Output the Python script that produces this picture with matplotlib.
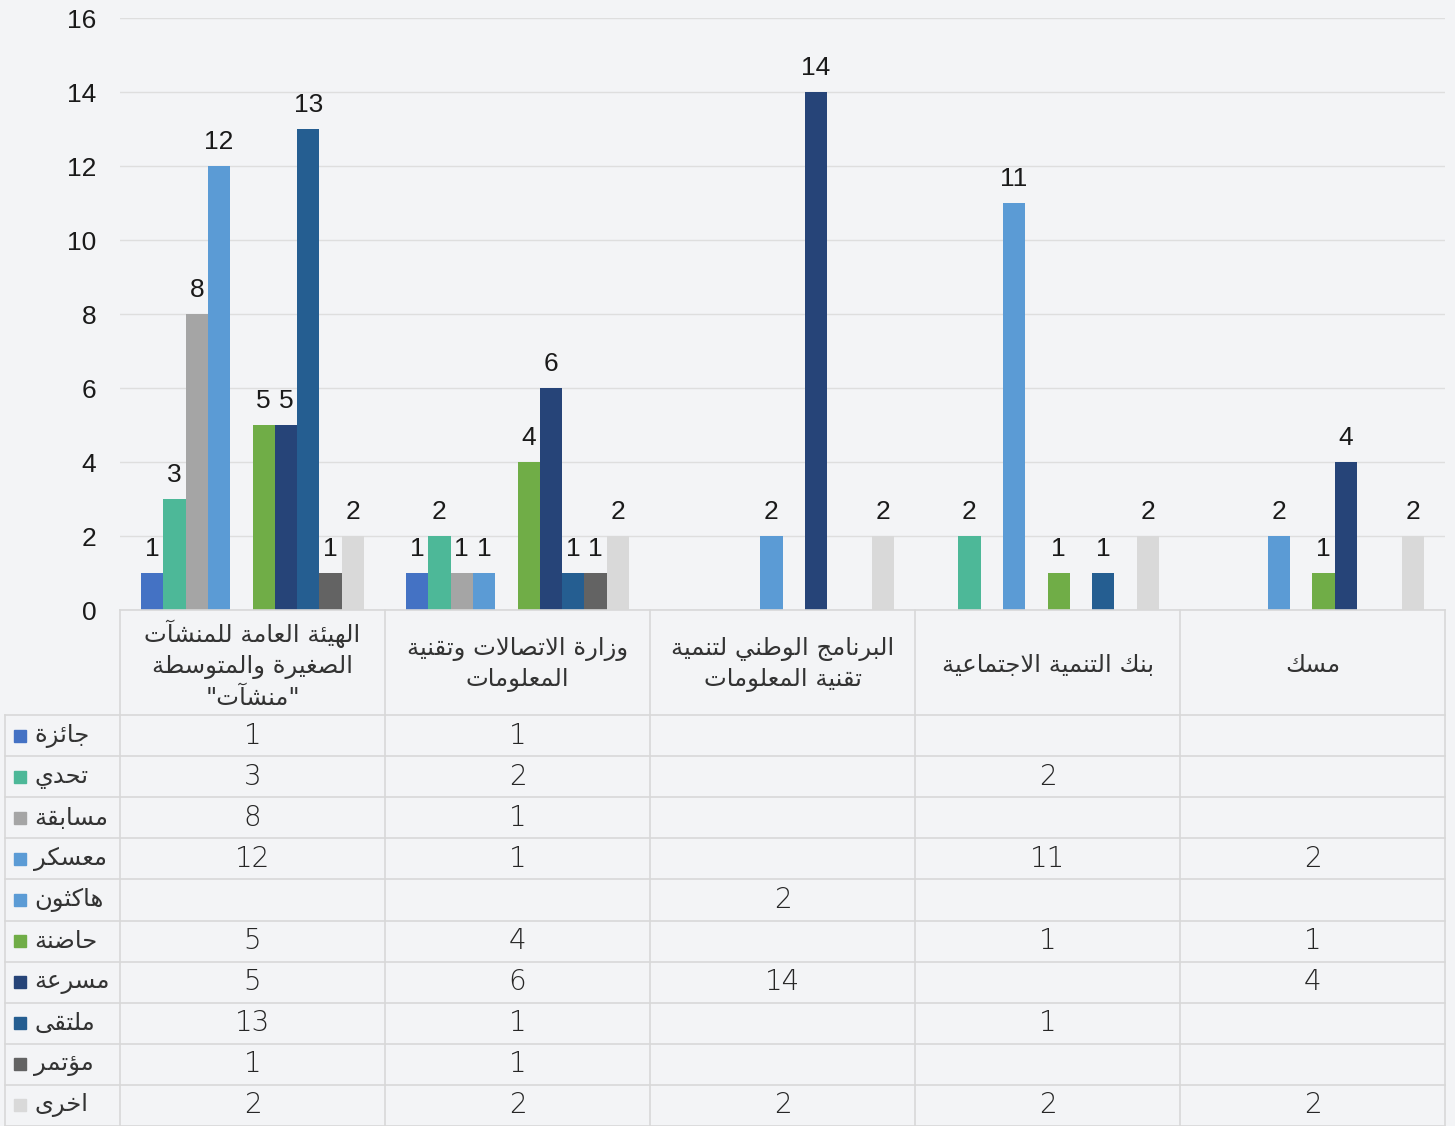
import matplotlib
matplotlib.use("Agg")
import matplotlib.pyplot as plt
import matplotlib.transforms as mtransforms
import numpy as np

# ---------------- data ----------------
categories = [
    "الهيئة العامة للمنشآت\nالصغيرة والمتوسطة\n\"منشآت\"",
    "وزارة الاتصالات وتقنية\nالمعلومات",
    "البرنامج الوطني لتنمية\nتقنية المعلومات",
    "بنك التنمية الاجتماعية",
    "مسك",
]
series_names = ["جائزة", "تحدي", "مسابقة", "معسكر", "هاكثون",
                "حاضنة", "مسرعة", "ملتقى", "مؤتمر", "اخرى"]
jaiza     = [1, 1, None, None, None]
tahaddi   = [3, 2, None, 2, None]
musabaqa  = [8, 1, None, None, None]
muaskar   = [12, 1, None, 11, 2]
hackathon = [None, None, 2, None, None]
hadina    = [5, 4, None, 1, 1]
musria    = [5, 6, 14, None, 4]
multaqa   = [13, 1, None, 1, None]
mutamar   = [1, 1, None, None, None]
ukhra     = [2, 2, 2, 2, 2]
series_values = [jaiza, tahaddi, musabaqa, muaskar, hackathon,
                 hadina, musria, multaqa, mutamar, ukhra]
colors = ["#4472c4", "#4db898", "#a5a5a5", "#5b9bd5", "#5b9bd5",
          "#70ad47", "#264478", "#255e91", "#636363", "#d9d9d9"]
yticks = [0, 2, 4, 6, 8, 10, 12, 14, 16]

# ---------------- minimal Arabic shaping ----------------
F = {
    'ء': ('\uFE80', None, None, None),
    'آ': ('\uFE81', '\uFE82', None, None),
    'أ': ('\uFE83', '\uFE84', None, None),
    'ؤ': ('\uFE85', '\uFE86', None, None),
    'إ': ('\uFE87', '\uFE88', None, None),
    'ئ': ('\uFE89', '\uFE8A', '\uFE8B', '\uFE8C'),
    'ا': ('\uFE8D', '\uFE8E', None, None),
    'ب': ('\uFE8F', '\uFE90', '\uFE91', '\uFE92'),
    'ة': ('\uFE93', '\uFE94', None, None),
    'ت': ('\uFE95', '\uFE96', '\uFE97', '\uFE98'),
    'ث': ('\uFE99', '\uFE9A', '\uFE9B', '\uFE9C'),
    'ج': ('\uFE9D', '\uFE9E', '\uFE9F', '\uFEA0'),
    'ح': ('\uFEA1', '\uFEA2', '\uFEA3', '\uFEA4'),
    'خ': ('\uFEA5', '\uFEA6', '\uFEA7', '\uFEA8'),
    'د': ('\uFEA9', '\uFEAA', None, None),
    'ذ': ('\uFEAB', '\uFEAC', None, None),
    'ر': ('\uFEAD', '\uFEAE', None, None),
    'ز': ('\uFEAF', '\uFEB0', None, None),
    'س': ('\uFEB1', '\uFEB2', '\uFEB3', '\uFEB4'),
    'ش': ('\uFEB5', '\uFEB6', '\uFEB7', '\uFEB8'),
    'ص': ('\uFEB9', '\uFEBA', '\uFEBB', '\uFEBC'),
    'ض': ('\uFEBD', '\uFEBE', '\uFEBF', '\uFEC0'),
    'ط': ('\uFEC1', '\uFEC2', '\uFEC3', '\uFEC4'),
    'ظ': ('\uFEC5', '\uFEC6', '\uFEC7', '\uFEC8'),
    'ع': ('\uFEC9', '\uFECA', '\uFECB', '\uFECC'),
    'غ': ('\uFECD', '\uFECE', '\uFECF', '\uFED0'),
    'ف': ('\uFED1', '\uFED2', '\uFED3', '\uFED4'),
    'ق': ('\uFED5', '\uFED6', '\uFED7', '\uFED8'),
    'ك': ('\uFED9', '\uFEDA', '\uFEDB', '\uFEDC'),
    'ل': ('\uFEDD', '\uFEDE', '\uFEDF', '\uFEE0'),
    'م': ('\uFEE1', '\uFEE2', '\uFEE3', '\uFEE4'),
    'ن': ('\uFEE5', '\uFEE6', '\uFEE7', '\uFEE8'),
    'ه': ('\uFEE9', '\uFEEA', '\uFEEB', '\uFEEC'),
    'و': ('\uFEED', '\uFEEE', None, None),
    'ى': ('\uFEEF', '\uFEF0', None, None),
    'ي': ('\uFEF1', '\uFEF2', '\uFEF3', '\uFEF4'),
}
LAM_ALEF = {'آ': ('\uFEF5', '\uFEF6', None, None),
            'أ': ('\uFEF7', '\uFEF8', None, None),
            'إ': ('\uFEF9', '\uFEFA', None, None),
            'ا': ('\uFEFB', '\uFEFC', None, None)}


def shape_line(s):
    units = []
    i = 0
    while i < len(s):
        c = s[i]
        if c == 'ل' and i + 1 < len(s) and s[i + 1] in LAM_ALEF:
            units.append(LAM_ALEF[s[i + 1]])
            i += 2
            continue
        units.append(F.get(c, c))
        i += 1
    out = []
    for k, u in enumerate(units):
        if isinstance(u, str):
            out.append(u)
            continue
        prev = units[k - 1] if k > 0 else None
        nxt = units[k + 1] if k + 1 < len(units) else None
        jp = isinstance(prev, tuple) and prev[2] is not None
        jn = u[2] is not None and isinstance(nxt, tuple)
        if jp and jn:
            out.append(u[3])
        elif jp:
            out.append(u[1])
        elif jn:
            out.append(u[2])
        else:
            out.append(u[0])
    return ''.join(out)[::-1]


def ar(s):
    return '\n'.join(shape_line(l) for l in s.split('\n'))


# ---------------- figure ----------------
W, H = 1455, 1126
fig = plt.figure(figsize=(W / 100, H / 100), dpi=100)
fig.patch.set_facecolor("#f3f4f6")


def fx(px):
    return px / W


def fy(py):
    return 1 - py / H


left_px, right_px, top_px, bot_px = 120, 1445, 18, 610
ax = fig.add_axes([fx(left_px), fy(bot_px), fx(right_px - left_px), (bot_px - top_px) / H])
ax.set_facecolor("none")
ncat = len(categories)
nser = len(series_names)
x = np.arange(ncat)
bw = 0.0842
for j, (vals, col) in enumerate(zip(series_values, colors)):
    offs = (j - (nser - 1) / 2) * bw
    for i, v in enumerate(vals):
        if v is None:
            continue
        ax.bar(x[i] + offs, v, width=bw, color=col, zorder=3)
        ax.text(x[i] + offs, v + 0.33, str(v), ha="center", va="bottom",
                fontsize=19, color="#1a1a1a", family="Liberation Sans", zorder=4)

ax.set_xlim(-0.5, ncat - 0.5)
ax.set_ylim(0, 16)
ax.set_yticks(yticks)
ax.set_yticklabels([str(t) for t in yticks], family="Liberation Sans", fontsize=19, color="#1a1a1a")
ax.tick_params(axis="y", length=0, pad=17)
ax.set_xticks([])
ax.grid(axis="y", color="#dedede", linewidth=1, zorder=0)
for s in ax.spines.values():
    s.set_visible(False)

# ---------------- data table ----------------
trans = mtransforms.blended_transform_factory(ax.transData, fig.transFigure)
line_col = "#d8d8d8"
txt_col = "#404040"
header_bot = 715
row_h = (H - header_bot) / nser

# vertical lines
for b in np.arange(ncat + 1) - 0.5:
    ax.plot([b, b], [fy(bot_px), fy(H)], transform=trans, color=line_col,
            lw=1.2, clip_on=False)
fig.add_artist(plt.Line2D([fx(5), fx(5)], [fy(header_bot), fy(H)], color=line_col, lw=1.2))
# horizontal lines
fig.add_artist(plt.Line2D([fx(left_px), fx(right_px)], [fy(bot_px), fy(bot_px)], color=line_col, lw=1.2))
for r in range(nser + 1):
    yy = fy(header_bot + r * row_h)
    fig.add_artist(plt.Line2D([fx(5), fx(right_px)], [yy, yy], color=line_col, lw=1.2))

# header labels
for i, c in enumerate(categories):
    ax.text(x[i], fy((bot_px + header_bot) / 2 + 2), ar(c), transform=trans, ha="center", va="center",
            fontsize=17.5, color="#333333", family="DejaVu Sans", linespacing=1.35, clip_on=False)

# rows
for j, name in enumerate(series_names):
    yc = fy(header_bot + (j + 0.5) * row_h)
    fig.add_artist(plt.Rectangle((fx(14), yc - 6 / H), 12 / W, 12 / H, color=colors[j],
                                 transform=fig.transFigure))
    fig.text(fx(34), yc, ar(name), ha="left", va="center", fontsize=17.5, color="#333333",
             family="DejaVu Sans")
    for i, v in enumerate(series_values[j]):
        if v is None:
            continue
        ax.text(x[i], yc, str(v), transform=trans, ha="center", va="center",
                fontsize=20, color="#262626", family="DejaVu Sans", fontweight="light",
                clip_on=False)

fig.savefig("out.png", dpi=100, facecolor=fig.get_facecolor())
